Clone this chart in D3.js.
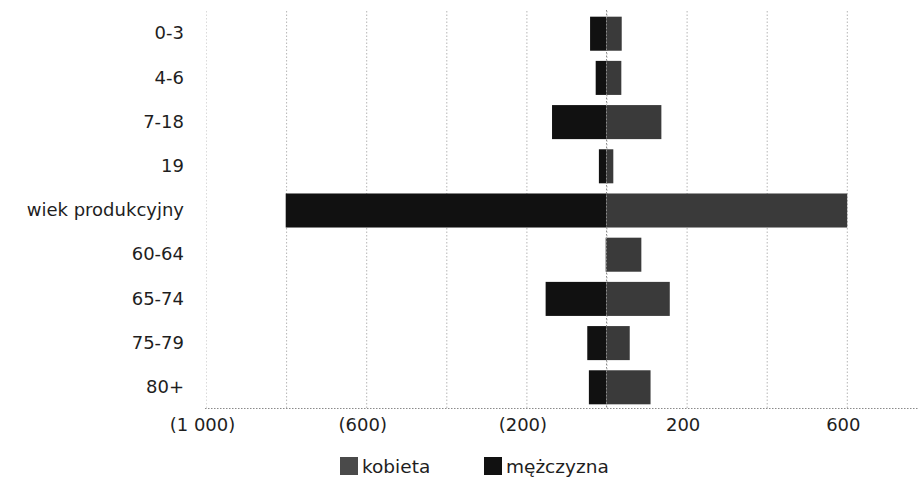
<!DOCTYPE html>
<html>
<head>
<meta charset="utf-8">
<script src="https://cdn.jsdelivr.net/npm/d3@7"></script>
<style>
  body { margin: 0; background: #fff; }
  svg { display: block; font-family: "DejaVu Sans", sans-serif; }
  .grid line { stroke: #b5b5b5; stroke-dasharray: 1.5,2; }
  .grid .domain { display: none; }
  .xaxis .domain { stroke: #8a8a8a; stroke-dasharray: 1.5,1.5; }
  .xaxis text, .yaxis text { fill: #1e1e1e; font-size: 18px; font-family: "DejaVu Sans", sans-serif; }
</style>
</head>
<body>
<svg id="chart" width="919" height="487"></svg>
<script>
// wiek grupy, od góry
var categories = ["0-3", "4-6", "7-18", "19", "wiek produkcyjny", "60-64", "65-74", "75-79", "80+"];
// mężczyźni rysowani w lewo (wartości ujemne)
var mezczyzna = [41, 27, 136, 19, 801, 2, 152, 48, 44];
var kobieta = [38, 37, 137, 17, 601, 87, 158, 58, 110];
var tickLabels = [-1000, -600, -200, 200, 600];
var gridValues = [-1000, -800, -600, -400, -200, 0, 200, 400, 600, 800];

var svg = d3.select("#chart");

var x = d3.scaleLinear().domain([-1000, 1000]).range([206, 1007]);
var y = d3.scaleBand().domain(categories).range([11.6, 409.4]).paddingInner(0.23).paddingOuter(0.115);

function fmt(v) {
    var s = d3.format(",")(Math.abs(v)).replace(/,/g, " ");
    return v < 0 ? "(" + s + ")" : s;
}

// siatka pionowa
svg.append("g")
   .attr("class", "grid")
   .attr("transform", "translate(0,408)")
   .call(d3.axisBottom(x).tickValues(gridValues).tickSize(-398).tickFormat(""));
svg.select(".grid .tick line").attr("stroke-opacity", 0.5);

// kobieta - w prawo
svg.append("g").selectAll("rect")
   .data(kobieta)
   .enter().append("rect")
   .attr("x", x(0))
   .attr("y", function(d, i) { return y(categories[i]); })
   .attr("width", function(d) { return x(d) - x(0); })
   .attr("height", y.bandwidth())
   .attr("fill", "#3a3a3a");

// mężczyzna - w lewo
svg.append("g").selectAll("rect")
   .data(mezczyzna)
   .enter().append("rect")
   .attr("x", function(d) { return x(-d); })
   .attr("y", function(d, i) { return y(categories[i]); })
   .attr("width", function(d) { return x(0) - x(-d); })
   .attr("height", y.bandwidth())
   .attr("fill", "#111");

// linia zera
svg.append("line")
   .attr("x1", x(0)).attr("x2", x(0))
   .attr("y1", 10).attr("y2", 408)
   .attr("stroke", "#8a8a8a")
   .attr("stroke-dasharray", "1.5,2");

// oś X
var xAxis = svg.append("g")
   .attr("class", "xaxis")
   .attr("transform", "translate(0,408)")
   .call(d3.axisBottom(x).tickValues(tickLabels).tickSize(0).tickPadding(10).tickFormat(fmt));
xAxis.select(".domain").attr("d", "M205,0.5H919");
xAxis.selectAll(".tick text").attr("dx", -4);

// etykiety kategorii
var yAxis = svg.append("g")
   .attr("class", "yaxis")
   .attr("transform", "translate(184,0)")
   .call(d3.axisLeft(y).tickSize(0).tickPadding(0));
yAxis.select(".domain").remove();

// legenda
var legend = [
    {name: "kobieta", color: "#4a4a4a", x: 340},
    {name: "mężczyzna", color: "#111", x: 484}
];
var lg = svg.append("g").selectAll("g")
   .data(legend)
   .enter().append("g")
   .attr("transform", function(d) { return "translate(" + d.x + ",457)"; });
lg.append("rect").attr("width", 18).attr("height", 18).attr("fill", function(d) { return d.color; });
lg.append("text")
  .attr("x", 22).attr("y", 16)
  .attr("font-size", "18.5px")
  .attr("fill", "#1e1e1e")
  .text(function(d) { return d.name; });
</script>
</body>
</html>
